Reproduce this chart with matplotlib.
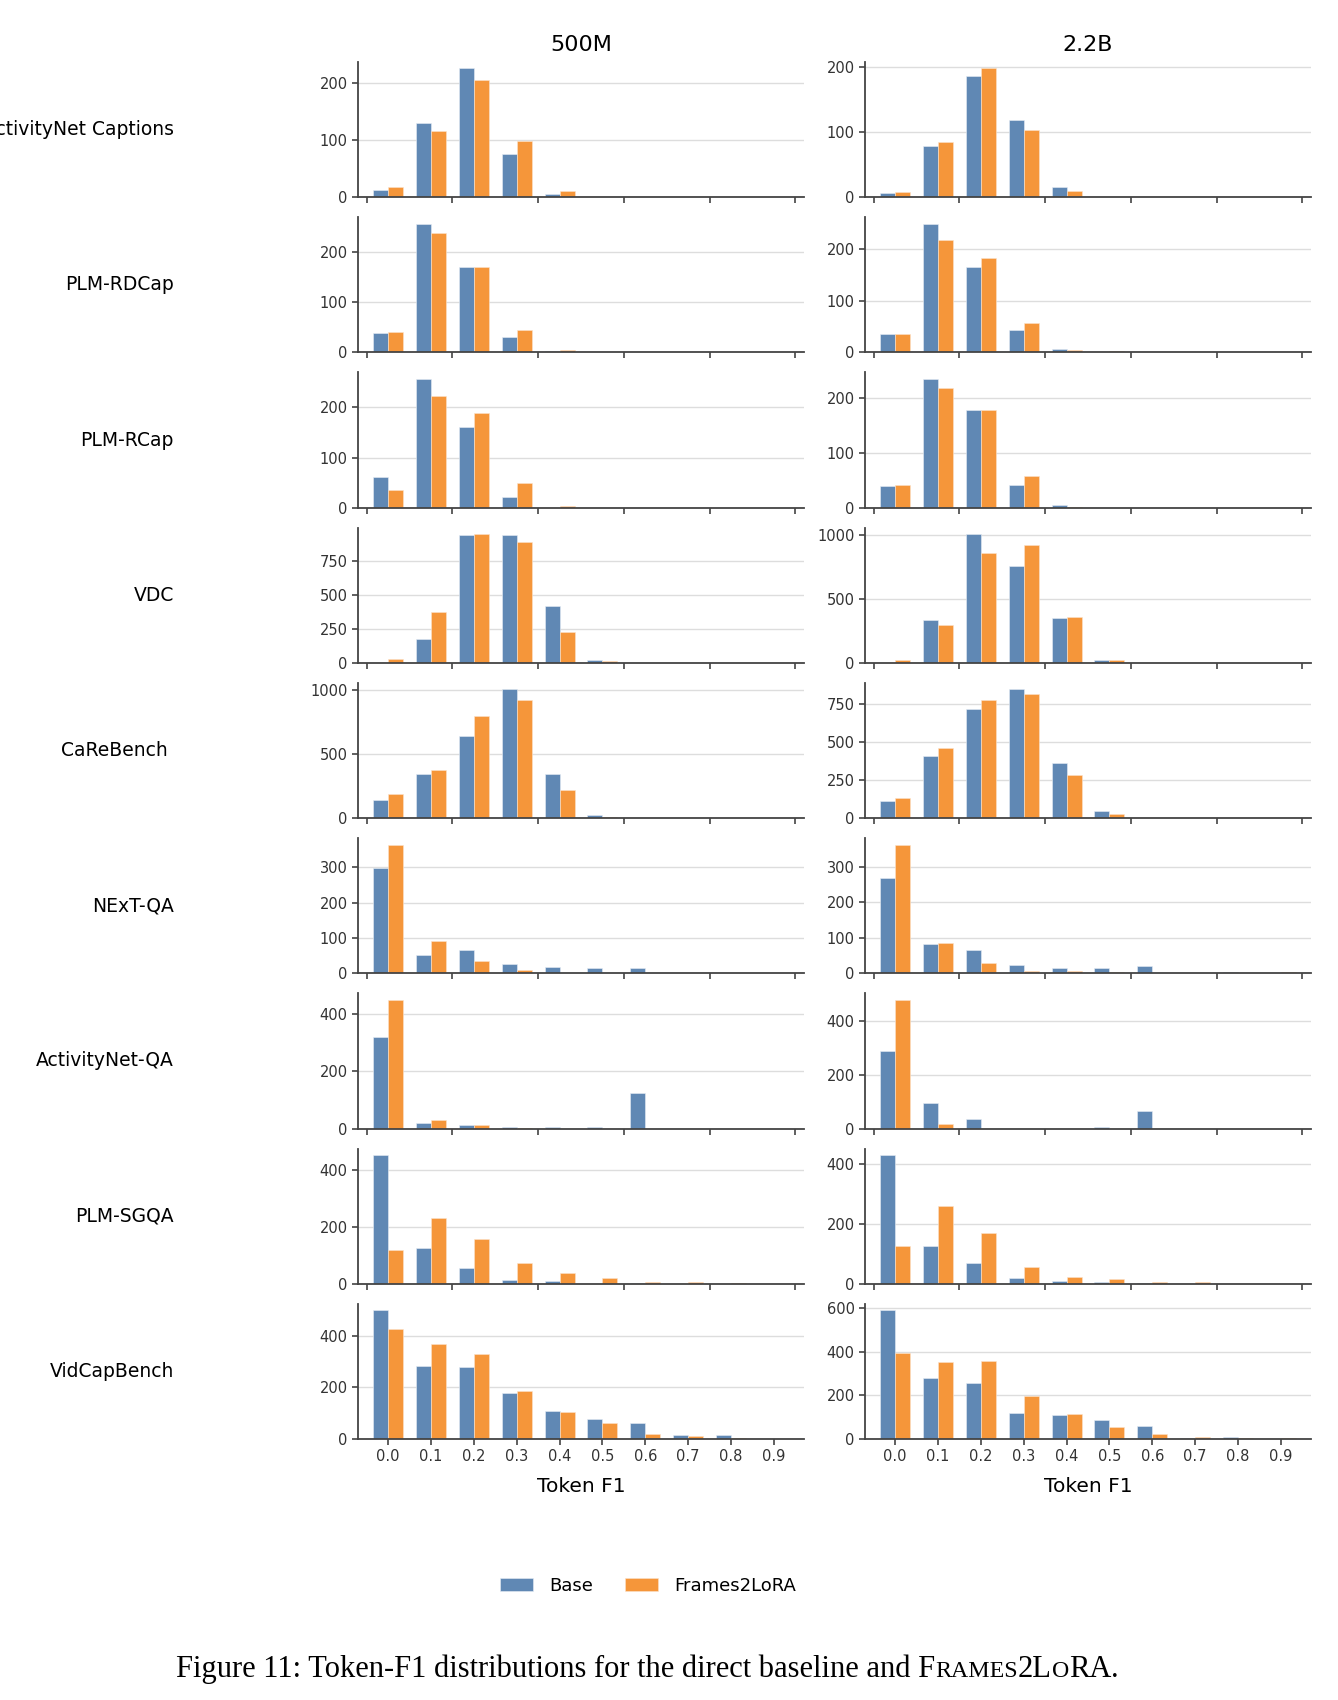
import numpy as np
import matplotlib
matplotlib.use("Agg")
import matplotlib.pyplot as plt

# Token F1 bins and benchmarks
bins = [0.0, 0.1, 0.2, 0.3, 0.4, 0.5, 0.6, 0.7, 0.8, 0.9]
benchmarks = ["ActivityNet Captions", "PLM-RDCap", "PLM-RCap", "VDC", "CaReBench ",
              "NExT-QA", "ActivityNet-QA", "PLM-SGQA", "VidCapBench"]
model_sizes = ["500M", "2.2B"]
series_names = ["Base", "Frames2LoRA"]

# counts per bin, one row per benchmark (same order as benchmarks)
base_500m = [
    [12, 129, 225, 75, 6, 0, 0, 0, 0, 0],
    [39, 257, 170, 31, 3, 0, 0, 0, 0, 0],
    [62, 257, 160, 21, 0, 0, 0, 0, 0, 0],
    [0, 176, 941, 941, 416, 20, 0, 0, 0, 0],
    [144, 348, 637, 1005, 345, 23, 0, 0, 0, 0],
    [299, 51, 65, 27, 17, 15, 16, 0, 2, 0],
    [320, 20, 13, 6, 6, 6, 124, 0, 0, 0],
    [452, 125, 57, 13, 10, 0, 1, 0, 0, 0],
    [500, 284, 279, 179, 110, 76, 61, 15, 15, 0],
]
f2l_500m = [
    [18, 116, 205, 98, 10, 0, 0, 0, 0, 0],
    [41, 239, 170, 45, 5, 0, 0, 0, 0, 0],
    [36, 222, 188, 50, 3, 0, 0, 0, 0, 0],
    [29, 376, 949, 892, 227, 17, 0, 0, 0, 0],
    [186, 374, 794, 918, 222, 5, 0, 0, 0, 0],
    [364, 90, 34, 9, 0, 0, 0, 0, 0, 0],
    [450, 30, 12, 2, 0, 0, 0, 0, 0, 0],
    [120, 230, 158, 73, 39, 22, 7, 5, 2, 0],
    [429, 367, 330, 187, 106, 62, 20, 13, 3, 0],
]
base_22b = [
    [7, 79, 186, 118, 15, 0, 0, 0, 0, 0],
    [36, 250, 165, 44, 6, 1, 0, 0, 0, 0],
    [39, 235, 179, 41, 5, 0, 0, 0, 0, 0],
    [0, 333, 1010, 763, 349, 26, 0, 0, 0, 0],
    [113, 405, 720, 846, 362, 44, 0, 0, 0, 0],
    [268, 83, 65, 24, 14, 14, 20, 0, 4, 0],
    [288, 96, 34, 0, 0, 5, 65, 0, 0, 0],
    [429, 125, 70, 19, 9, 7, 1, 0, 0, 0],
    [591, 280, 258, 118, 110, 87, 60, 6, 9, 0],
]
f2l_22b = [
    [8, 85, 198, 103, 10, 0, 0, 0, 0, 0],
    [36, 219, 183, 58, 4, 2, 0, 0, 0, 0],
    [41, 219, 179, 57, 1, 0, 0, 0, 0, 0],
    [21, 297, 865, 922, 362, 21, 0, 0, 0, 0],
    [133, 458, 776, 813, 283, 28, 0, 0, 0, 0],
    [362, 85, 30, 7, 6, 4, 0, 0, 0, 3],
    [478, 17, 0, 0, 0, 0, 0, 0, 0, 0],
    [126, 258, 168, 55, 23, 16, 5, 7, 0, 0],
    [396, 354, 357, 198, 116, 57, 25, 9, 3, 3],
]

blue = "#6088b4"
orange = "#f5963a"
spine_col = "#444444"

plt.rcParams["font.family"] = ["DejaVu Sans"]
fig, axes = plt.subplots(9, 2, figsize=(13.38, 17), dpi=100)
fig.subplots_adjust(left=358 / 1338, right=1311 / 1338, top=1 - 62 / 1700,
                    bottom=1 - 1439 / 1700, wspace=0.137, hspace=0.148)

x = np.array(bins)
w = 0.035
data = [(base_500m, f2l_500m), (base_22b, f2l_22b)]

for col in range(2):
    base_all, f2l_all = data[col]
    for row in range(9):
        ax = axes[row, col]
        ax.bar(x - w / 2, base_all[row], w, color=blue, edgecolor="#e8eef5",
               linewidth=0.4, label=series_names[0], zorder=2)
        ax.bar(x + w / 2, f2l_all[row], w, color=orange, edgecolor="#fbe3cc",
               linewidth=0.4, label=series_names[1], zorder=2)
        ax.set_xlim(-0.07, 0.97)
        ax.grid(axis="y", color="#dddddd", linewidth=1.0, zorder=0)
        ax.set_axisbelow(True)
        for s in ["top", "right"]:
            ax.spines[s].set_visible(False)
        for s in ["left", "bottom"]:
            ax.spines[s].set_color(spine_col)
            ax.spines[s].set_linewidth(1.3)
        ax.tick_params(axis="both", direction="out", length=4, width=1.2,
                       color=spine_col, labelcolor="#333333", labelsize=10.5)
        if row == 8:
            ax.set_xticks(bins)
            ax.set_xticklabels([f"{b:.1f}" for b in bins])
            ax.set_xlabel("Token F1", fontsize=14.5, labelpad=9)
        else:
            ax.set_xticks(np.arange(-0.05, 1.0, 0.2))
            ax.set_xticklabels([])
        if row == 0:
            ax.set_title(model_sizes[col], fontsize=16, pad=8)

# row labels on the left
for row, name in enumerate(benchmarks):
    pos = axes[row, 0].get_position()
    fig.text(174 / 1338, (pos.y0 + pos.y1) / 2, name, ha="right", va="center",
             fontsize=13.5)

handles, labels = axes[0, 0].get_legend_handles_labels()
fig.legend(handles, labels, loc="center", bbox_to_anchor=(648 / 1338, 1 - 1586 / 1700),
           ncol=2, frameon=False, fontsize=13, handlelength=1.8,
           handletextpad=0.9, columnspacing=1.8)

# caption with small caps for the method name
renderer = fig.canvas.get_renderer()
cap_size = 22
parts = [("Figure 11: Token-F1 distributions for the direct baseline and F", 1.0),
         ("RAMES", 0.78), ("2L", 1.0), ("O", 0.78), ("RA", 1.0), (".", 1.0)]
cx = 176 / 1338
cy = 1 - 1677 / 1700
for txt, sc in parts:
    t = fig.text(cx, cy, txt, fontsize=cap_size * sc, family="Liberation Serif",
                 ha="left", va="baseline")
    bb = t.get_window_extent(renderer=renderer)
    cx += bb.width / fig.bbox.width

fig.savefig("out.png", dpi=100)
